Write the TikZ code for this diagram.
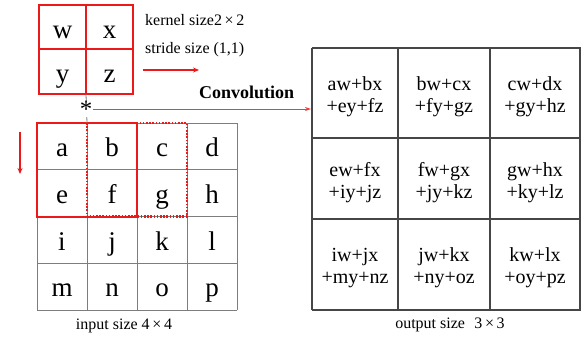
\documentclass[tikz,border=0pt]{standalone}
\usepackage{fontspec}
\setmainfont{Liberation Serif}
\usetikzlibrary{arrows.meta}
\definecolor{kred}{RGB}{235,25,25}
\definecolor{linkred}{RGB}{240,60,60}
\definecolor{gridgray}{RGB}{125,125,125}
\definecolor{outgray}{RGB}{70,70,70}
\begin{document}
\begin{tikzpicture}[x=1pt,y=-1pt,
  big/.style={font=\fontsize{27}{27}\selectfont, inner sep=0pt, anchor=base},
  lbl/.style={font=\fontsize{16}{18}\selectfont, inner sep=0pt, anchor=base west},
  captext/.style={font=\fontsize{16}{18}\selectfont, inner sep=0pt, anchor=base},
  outtxt/.style={font=\fontsize{20}{22}\selectfont, align=center, inner sep=0pt},
  kern/.style={draw=kred, line width=2pt},
  ingrid/.style={draw=gridgray, line width=1pt},
  outgrid/.style={draw=outgray, line width=1.2pt},
  redarrow/.style={draw=kred, line width=1.5pt, -{Stealth[length=6pt,width=5pt]}},
  thinarrow/.style={draw=linkred, line width=1pt, -{Stealth[length=6pt,width=4pt]}}
]
\useasboundingbox (0,0) rectangle (581,338);

% ---------- kernel ----------
\draw[kern] (39,5) rectangle (133,94);
\draw[kern] (86,5) -- (86,94);
\draw[kern] (39,49) -- (133,49);
\node[big] (kw) at (62.5,38) {w};
\node[big] (kx) at (109.5,38) {x};
\node[big] (ky) at (62.5,82.5) {y};
\node[big] (kz) at (109.5,82.5) {z};

\node[lbl] (ksize) at (145,25) {kernel size2\,×\,2};
\node[lbl] (stride) at (145,53) {stride size (1,1)};
\coordinate (ra1) at (143,70);
\coordinate (ra2) at (199,70);
\draw[redarrow] (ra1) -- (ra2);
\node[font=\fontsize{18}{20}\selectfont\bfseries, inner sep=0pt, anchor=base west] (conv) at (199,98) {Convolution};

% ---------- input grid ----------
\foreach \i in {0,...,4} {
  \draw[ingrid] (37+50*\i,123) -- (37+50*\i,310);
  \draw[ingrid] (37,123+46.75*\i) -- (237,123+46.75*\i);
}
\foreach \t [count=\n from 0] in {a,b,c,d,e,f,g,h,i,j,k,l,m,n,o,p} {
  \pgfmathtruncatemacro{\c}{mod(\n,4)}
  \pgfmathtruncatemacro{\r}{div(\n,4)}
  \node[big] (in-\t) at (62+50*\c, 123+46.75*\r+33.5) {\t};
}
% sliding windows
\draw[kern, line width=2.2pt, dash pattern=on 1.6pt off 1.6pt] (87,123) rectangle (187,216.5);
\draw[kern] (37,123) rectangle (137,216.5);
\coordinate (da1) at (20,132);
\coordinate (da2) at (20,174);
\draw[redarrow] (da1) -- (da2);
\node[captext] (incap) at (124,329) {input size 4\,×\,4};

% ---------- link kernel to input / output ----------
\coordinate (kbot) at (86,94);
\coordinate (itop) at (87,123);
\draw[draw=gridgray, line width=0.8pt] (kbot) -- (itop);
\node[font=\fontsize{25}{25}\selectfont, inner sep=0.3pt, fill=white] (ast) at (86,109) {*};
\coordinate (oleft) at (311,109);
\draw[thinarrow] (ast.east) -- (oleft);

% ---------- output grid ----------
\foreach \x in {312,398,490,580} \draw[outgrid] (\x,48) -- (\x,310);
\foreach \y in {48,138,219,310} \draw[outgrid] (312,\y) -- (581,\y);

\node[outtxt] (o11) at (355,97) {aw+bx\\+ey+fz};
\node[outtxt] (o12) at (444,97) {bw+cx\\+fy+gz};
\node[outtxt] (o13) at (535,97) {cw+dx\\+gy+hz};
\node[outtxt] (o21) at (355,183) {ew+fx\\+iy+jz};
\node[outtxt] (o22) at (444,183) {fw+gx\\+jy+kz};
\node[outtxt] (o23) at (535,183) {gw+hx\\+ky+lz};
\node[outtxt] (o31) at (355,268) {iw+jx\\+my+nz};
\node[outtxt] (o32) at (444,268) {jw+kx\\+ny+oz};
\node[outtxt] (o33) at (535,268) {kw+lx\\+oy+pz};

\node[captext] (outcap) at (450,328) {output size\,\, 3\,×\,3};
\end{tikzpicture}
\end{document}
